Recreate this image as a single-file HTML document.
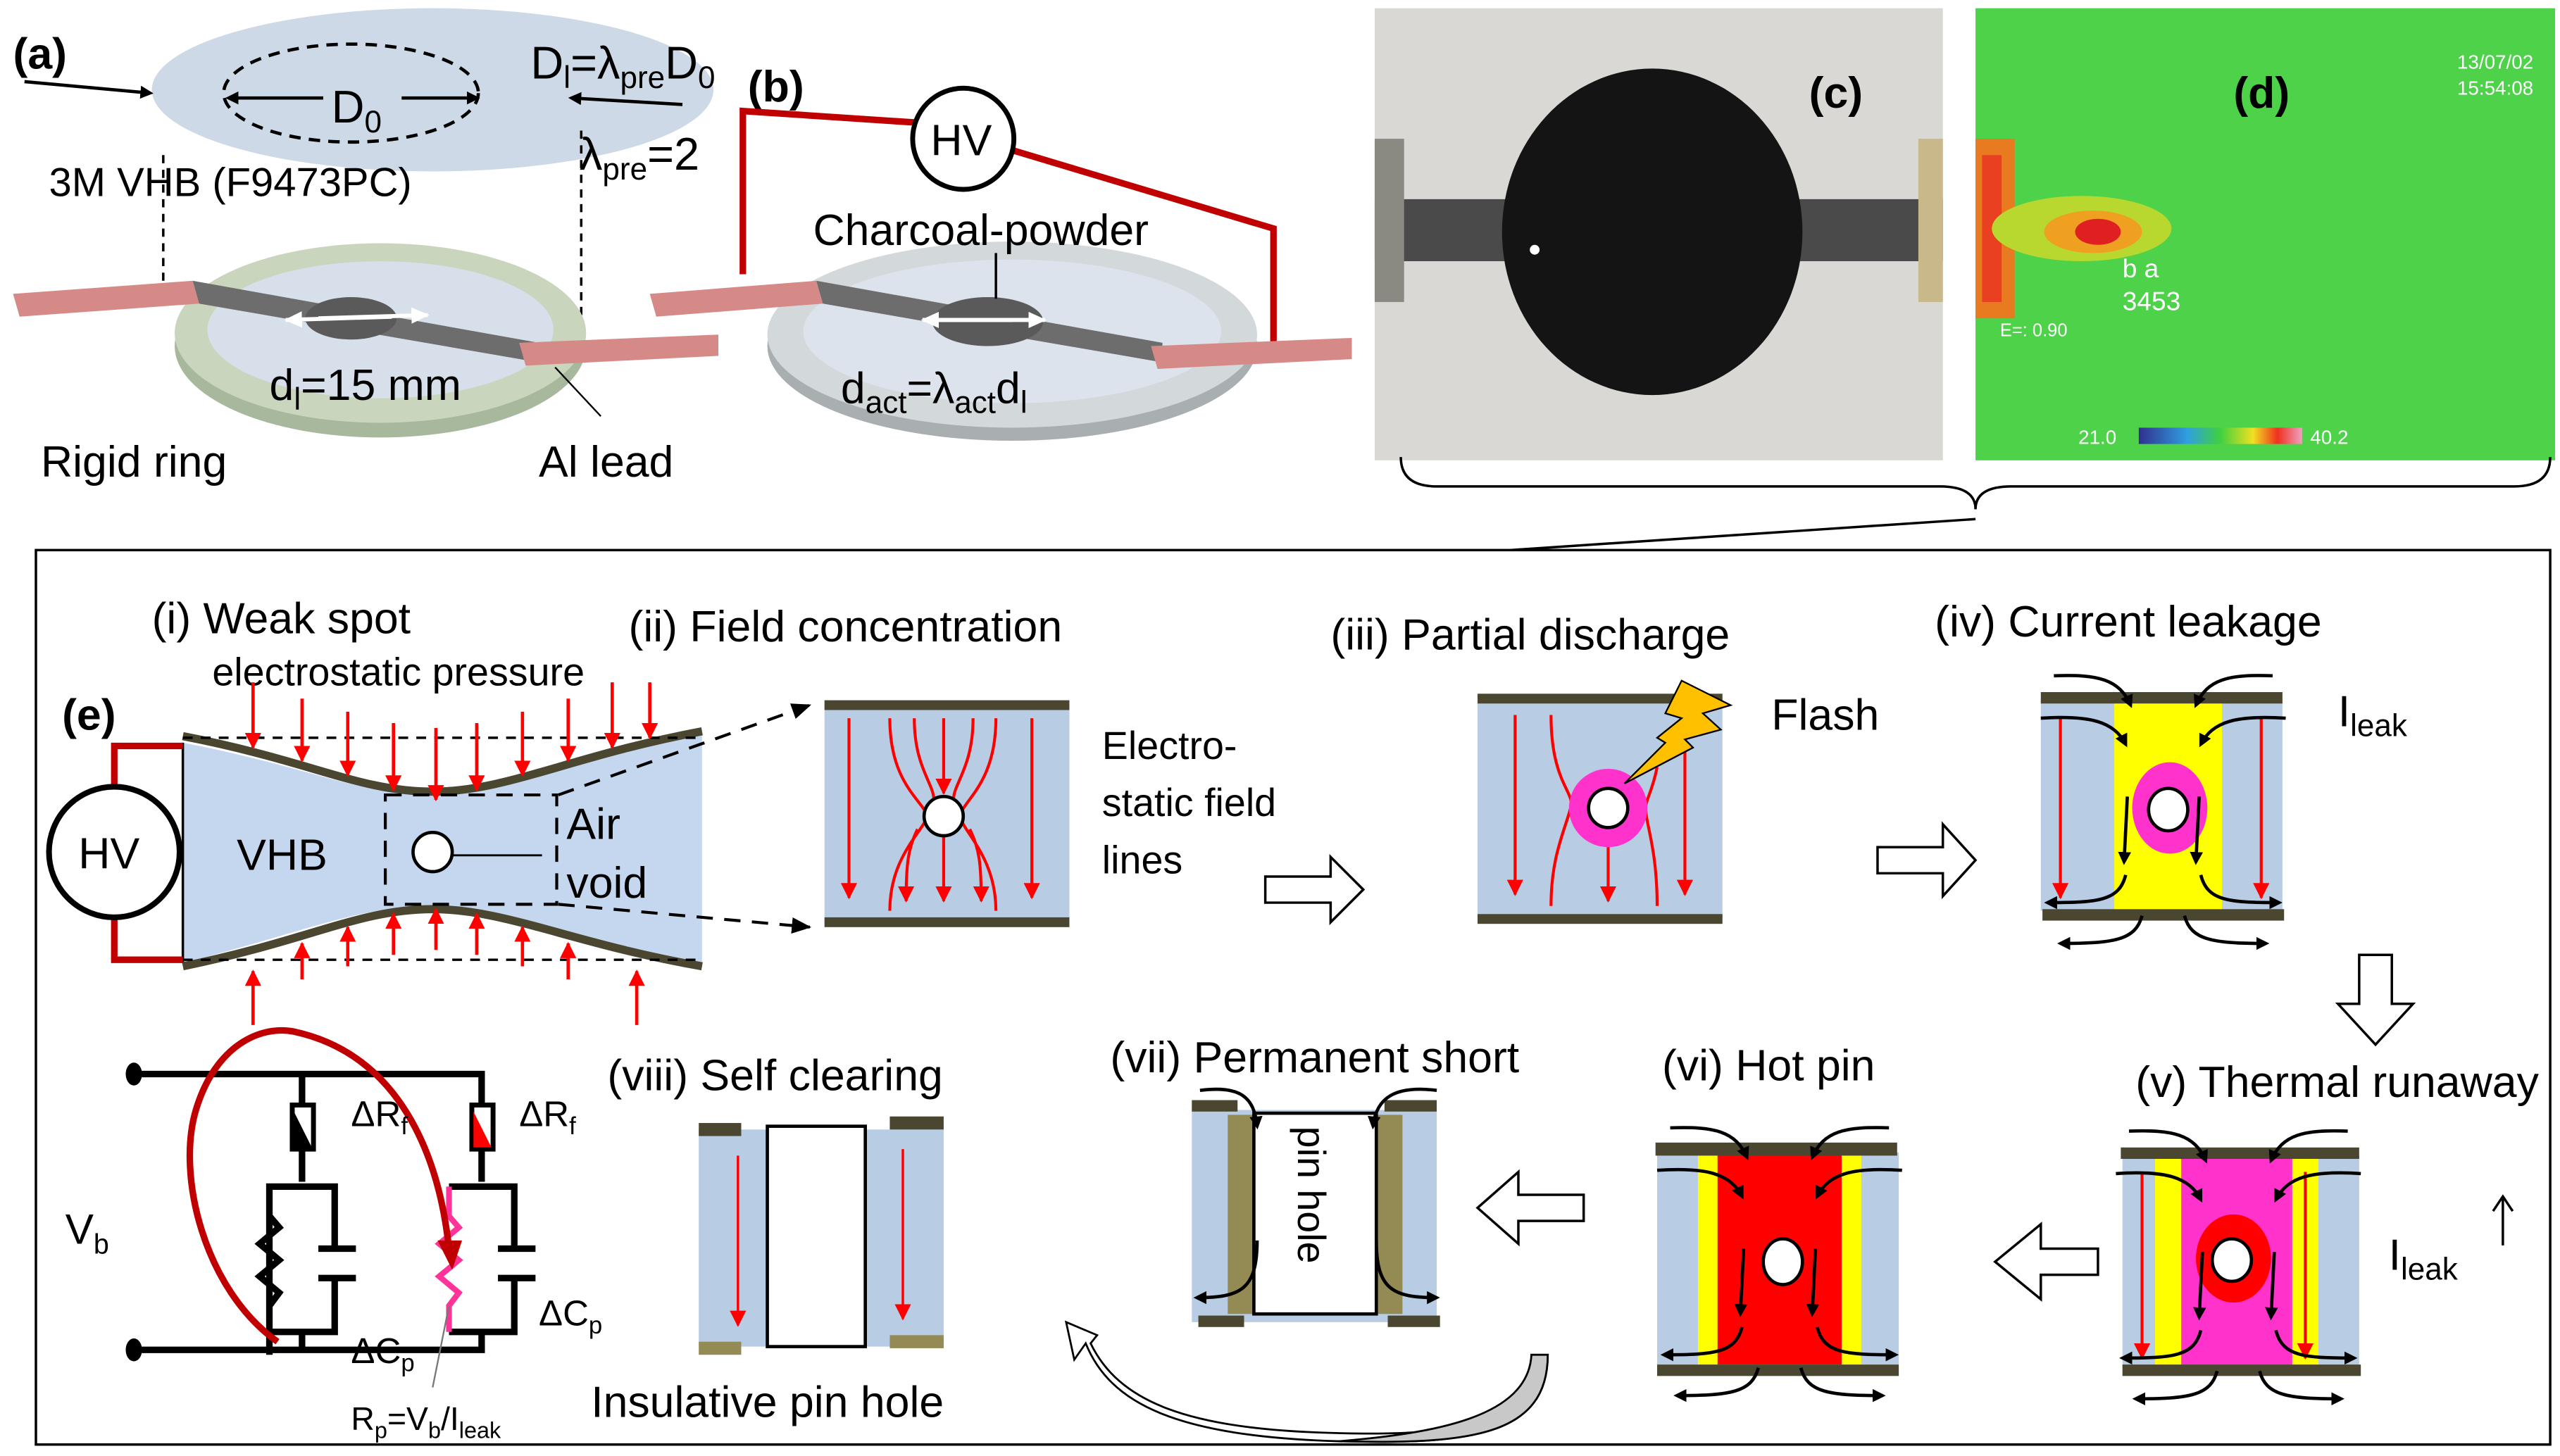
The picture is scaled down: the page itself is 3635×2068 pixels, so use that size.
<!DOCTYPE html>
<html><head><meta charset="utf-8"><style>
html,body{margin:0;padding:0;background:#fff}
svg{display:block}
text{font-family:"Liberation Sans","DejaVu Sans",sans-serif;fill:#000}
</style></head><body>
<svg width="3635" height="2068" viewBox="0 0 1568 892" xmlns="http://www.w3.org/2000/svg">
<defs>
<marker id="ab" markerWidth="8" markerHeight="8" refX="6" refY="4" orient="auto" markerUnits="userSpaceOnUse"><path d="M0,0 L8,4 L0,8 z" fill="#000"/></marker>
<marker id="ar" markerWidth="10" markerHeight="14" refX="9" refY="5" orient="auto" markerUnits="userSpaceOnUse"><path d="M0,0 L10,5 L0,10 z" fill="#f00"/></marker>
<marker id="aw" markerWidth="12" markerHeight="12" refX="10" refY="6" orient="auto" markerUnits="userSpaceOnUse"><path d="M0,1 L11,6 L0,11 z" fill="#fff"/></marker>
<marker id="ad" markerWidth="12" markerHeight="10" refX="11" refY="5" orient="auto" markerUnits="userSpaceOnUse"><path d="M0,0 L12,5 L0,10 z" fill="#000"/></marker>
<symbol id="leak" overflow="visible">
<g fill="none" stroke="#000" stroke-width="2" marker-end="url(#ab)">
<path d="M8,-14 C35,-15 48,-12 55,4"/>
<path d="M142,-14 C115,-15 102,-12 95,4"/>
<path d="M0,12 C30,10 45,14 52,28"/>
<path d="M150,12 C120,10 105,14 98,28"/>
<path d="M53,60 L51,100"/>
<path d="M97,60 L95,100"/>
<path d="M52,108 C48,124 35,125 4,125"/>
<path d="M98,108 C102,124 115,125 146,125"/>
<path d="M62,133 C58,148 45,150 12,150"/>
<path d="M88,133 C92,148 105,150 138,150"/>
</g>
</symbol>
</defs>

<!-- ===== (a) ===== -->
<ellipse cx="265" cy="55" rx="172" ry="50" fill="#cdd9e6"/>
<text x="8" y="42" font-size="27" font-weight="bold">(a)</text>
<ellipse cx="215" cy="57" rx="78" ry="30" fill="none" stroke="#000" stroke-width="2" stroke-dasharray="7,5"/>
<line x1="198" y1="60" x2="140" y2="60" stroke="#000" stroke-width="2" marker-end="url(#ab)"/>
<line x1="246" y1="60" x2="292" y2="60" stroke="#000" stroke-width="2" marker-end="url(#ab)"/>
<text x="203" y="75" font-size="28">D<tspan font-size="19" dy="6">0</tspan></text>
<text x="325" y="48" font-size="28">D<tspan font-size="19" dy="6">l</tspan><tspan dy="-6">=λ</tspan><tspan font-size="19" dy="6">pre</tspan><tspan dy="-6">D</tspan><tspan font-size="19" dy="6">0</tspan></text>
<line x1="15" y1="50" x2="92" y2="57" stroke="#000" stroke-width="2" marker-end="url(#ab)"/>
<line x1="418" y1="64" x2="350" y2="60" stroke="#000" stroke-width="2" marker-end="url(#ab)"/>
<text x="30" y="120" font-size="25">3M VHB  (F9473PC)</text>
<text x="355" y="104" font-size="28">λ<tspan font-size="19" dy="6">pre</tspan><tspan dy="-6">=2</tspan></text>
<line x1="100" y1="95" x2="100" y2="180" stroke="#000" stroke-width="1.5" stroke-dasharray="5,4"/>
<line x1="356" y1="80" x2="356" y2="195" stroke="#000" stroke-width="1.5" stroke-dasharray="5,4"/>
<ellipse cx="233" cy="212" rx="126" ry="56" fill="#a8b89c"/>
<ellipse cx="233" cy="204" rx="126" ry="55" fill="#c9d5bd"/>
<ellipse cx="233" cy="202" rx="106" ry="42" fill="#d6dfea"/>
<polygon points="8,180 118,172 122,186 12,194" fill="#d68a88"/>
<polygon points="118,172 330,210 330,222 122,186" fill="#6d6d6d"/>
<polygon points="318,210 440,205 440,218 322,224" fill="#d68a88"/>
<ellipse cx="215" cy="195" rx="28" ry="13" fill="#5a5a5a"/>
<line x1="195" y1="195" x2="262" y2="193" stroke="#fff" stroke-width="2.5" marker-end="url(#aw)"/>
<line x1="240" y1="194" x2="175" y2="196" stroke="#fff" stroke-width="2.5" marker-end="url(#aw)"/>
<text x="165" y="245" font-size="27">d<tspan font-size="19" dy="6">l</tspan><tspan dy="-6">=15 mm</tspan></text>
<line x1="340" y1="225" x2="368" y2="255" stroke="#000" stroke-width="1"/>
<text x="25" y="292" font-size="27">Rigid  ring</text>
<text x="330" y="292" font-size="27">Al lead</text>

<!-- ===== (b) ===== -->
<text x="458" y="62" font-size="27" font-weight="bold">(b)</text>
<polyline points="455,168 455,68 560,75" fill="none" stroke="#c00000" stroke-width="4"/>
<polyline points="620,92 780,140 780,222" fill="none" stroke="#c00000" stroke-width="4"/>
<circle cx="590" cy="85" r="31" fill="#fff" stroke="#000" stroke-width="3"/>
<text x="570" y="95" font-size="27">HV</text>
<ellipse cx="620" cy="212" rx="150" ry="58" fill="#a9aeb0"/>
<ellipse cx="620" cy="205" rx="150" ry="57" fill="#d3d8db"/>
<ellipse cx="620" cy="203" rx="128" ry="44" fill="#dde3ec"/>
<polygon points="398,180 500,172 504,186 402,194" fill="#d68a88"/>
<polygon points="500,172 712,210 712,222 504,186" fill="#6d6d6d"/>
<polygon points="705,212 828,207 828,220 709,226" fill="#d68a88"/>
<ellipse cx="605" cy="197" rx="34" ry="15" fill="#5a5a5a"/>
<line x1="575" y1="196" x2="640" y2="196" stroke="#fff" stroke-width="2.5" marker-end="url(#aw)"/>
<line x1="620" y1="196" x2="565" y2="196" stroke="#fff" stroke-width="2.5" marker-end="url(#aw)"/>
<line x1="610" y1="155" x2="610" y2="183" stroke="#000" stroke-width="1.5"/>
<text x="498" y="150" font-size="27">Charcoal-powder</text>
<text x="515" y="247" font-size="27">d<tspan font-size="19" dy="6">act</tspan><tspan dy="-6">=λ</tspan><tspan font-size="19" dy="6">act</tspan><tspan dy="-6">d</tspan><tspan font-size="19" dy="6">l</tspan></text>

<!-- ===== (c) ===== -->
<rect x="842" y="5" width="348" height="277" fill="#d9d8d4"/>
<rect x="842" y="122" width="348" height="38" fill="#4a4a4a"/>
<rect x="842" y="85" width="18" height="100" fill="#8a8a82"/>
<rect x="1175" y="85" width="15" height="100" fill="#c9b98a"/>
<ellipse cx="1012" cy="142" rx="92" ry="100" fill="#141414"/>
<circle cx="940" cy="153" r="3" fill="#fff"/>
<text x="1108" y="66" font-size="27" font-weight="bold">(c)</text>

<!-- ===== (d) ===== -->
<rect x="1210" y="5" width="355" height="277" fill="#4ed24a"/>
<rect x="1210" y="85" width="24" height="110" fill="#e87a20"/>
<rect x="1214" y="95" width="12" height="90" fill="#e84020"/>
<ellipse cx="1275" cy="140" rx="55" ry="20" fill="#b8d830"/>
<ellipse cx="1282" cy="142" rx="30" ry="13" fill="#f0a020"/>
<ellipse cx="1285" cy="142" rx="14" ry="8" fill="#e02020"/>
<text x="1368" y="66" font-size="27" font-weight="bold">(d)</text>
<text x="1505" y="42" font-size="12" style="fill:#fff">13/07/02</text>
<text x="1505" y="58" font-size="12" style="fill:#fff">15:54:08</text>
<text x="1225" y="206" font-size="11" style="fill:#fff">E=: 0.90</text>
<text x="1300" y="170" font-size="16" style="fill:#fff">b a</text>
<text x="1300" y="190" font-size="16" style="fill:#fff">3453</text>
<text x="1273" y="272" font-size="12" style="fill:#fff">21.0</text>
<defs><linearGradient id="cb"><stop offset="0" stop-color="#303090"/><stop offset="0.3" stop-color="#30a0e0"/><stop offset="0.5" stop-color="#40d040"/><stop offset="0.7" stop-color="#f0e020"/><stop offset="0.85" stop-color="#f03020"/><stop offset="1" stop-color="#f0a0c0"/></linearGradient></defs>
<rect x="1310" y="262" width="100" height="10" fill="url(#cb)"/>
<text x="1415" y="272" font-size="12" style="fill:#fff">40.2</text>

<!-- brace -->
<path d="M858,280 Q858,298 880,298 L1188,298 Q1210,298 1210,312 Q1210,298 1232,298 L1540,298 Q1562,298 1562,280" fill="none" stroke="#000" stroke-width="1.5"/>
<line x1="1210" y1="318" x2="925" y2="337" stroke="#000" stroke-width="1.5"/>

<!-- ===== (e) box ===== -->
<rect x="22" y="337" width="1540" height="548" fill="none" stroke="#000" stroke-width="1.5"/>
<text x="38" y="447" font-size="27" font-weight="bold">(e)</text>
<text x="93" y="388" font-size="27">(i) Weak spot</text>
<text x="130" y="420" font-size="24">electrostatic pressure</text>

<path d="M112,455 C190,470 220,487 265,487 C310,487 350,465 430,450 L430,590 C350,575 310,555 265,555 C220,555 190,570 112,590 Z" fill="#c5d7ef"/>
<line x1="112" y1="455" x2="112" y2="590" stroke="#000" stroke-width="1.5"/>
<path d="M112,451 C190,466 220,485 265,485 C310,485 350,463 430,448" fill="none" stroke="#4a4630" stroke-width="5"/>
<path d="M112,592 C190,576 220,557 265,557 C310,557 350,578 430,592" fill="none" stroke="#4a4630" stroke-width="5"/>
<line x1="112" y1="452" x2="430" y2="452" stroke="#000" stroke-width="1.5" stroke-dasharray="6,5"/>
<line x1="112" y1="588" x2="430" y2="588" stroke="#000" stroke-width="1.5" stroke-dasharray="6,5"/>
<rect x="236" y="487" width="105" height="67" fill="none" stroke="#000" stroke-width="1.8" stroke-dasharray="10,7"/>
<polyline points="70,482 70,457 112,457" fill="none" stroke="#c00000" stroke-width="4"/>
<polyline points="70,562 70,588 112,588" fill="none" stroke="#c00000" stroke-width="4"/>
<circle cx="70" cy="522" r="40" fill="#fff" stroke="#000" stroke-width="3.5"/>
<text x="48" y="532" font-size="27">HV</text>
<text x="145" y="533" font-size="27">VHB</text>
<circle cx="265" cy="522" r="12" fill="#fff" stroke="#000" stroke-width="2"/>
<line x1="277" y1="524" x2="332" y2="524" stroke="#000" stroke-width="1.2"/>
<text x="347" y="514" font-size="27">Air</text>
<text x="347" y="550" font-size="27">void</text>
<g stroke="#f00" stroke-width="2" marker-end="url(#ar)">
<line x1="155" y1="418" x2="155" y2="458"/><line x1="185" y1="428" x2="185" y2="466"/>
<line x1="213" y1="436" x2="213" y2="475"/><line x1="241" y1="443" x2="241" y2="484"/>
<line x1="267" y1="446" x2="267" y2="490"/><line x1="292" y1="443" x2="292" y2="484"/>
<line x1="320" y1="436" x2="320" y2="475"/><line x1="348" y1="428" x2="348" y2="466"/>
<line x1="375" y1="418" x2="375" y2="458"/><line x1="398" y1="418" x2="398" y2="452"/>
<line x1="155" y1="628" x2="155" y2="595"/><line x1="185" y1="600" x2="185" y2="578"/>
<line x1="213" y1="592" x2="213" y2="568"/><line x1="241" y1="585" x2="241" y2="560"/>
<line x1="267" y1="582" x2="267" y2="557"/><line x1="292" y1="585" x2="292" y2="560"/>
<line x1="320" y1="592" x2="320" y2="568"/><line x1="348" y1="600" x2="348" y2="578"/>
<line x1="390" y1="628" x2="390" y2="595"/>
</g>
<line x1="342" y1="487" x2="496" y2="432" stroke="#000" stroke-width="1.8" stroke-dasharray="10,7" marker-end="url(#ad)"/>
<line x1="342" y1="554" x2="496" y2="568" stroke="#000" stroke-width="1.8" stroke-dasharray="10,7" marker-end="url(#ad)"/>

<!-- (ii) -->
<text x="385" y="393" font-size="27">(ii) Field concentration</text>
<rect x="505" y="432" width="150" height="134" fill="#b8cce4"/>
<rect x="505" y="429" width="150" height="6" fill="#4a4630"/>
<rect x="505" y="562" width="150" height="6" fill="#4a4630"/>
<g fill="none" stroke="#f00" stroke-width="1.8">
<line x1="520" y1="440" x2="520" y2="550" marker-end="url(#ar)"/>
<line x1="632" y1="440" x2="632" y2="550" marker-end="url(#ar)"/>
<path d="M545,440 C545,480 565,490 568,500 C565,510 545,525 545,558"/>
<path d="M610,440 C610,480 590,490 588,500 C590,510 610,525 610,558"/>
<path d="M560,440 C560,470 572,480 572,490"/>
<path d="M596,440 C596,470 584,480 584,490"/>
<line x1="578" y1="440" x2="578" y2="486" marker-end="url(#ar)"/>
<path d="M562,508 C556,520 555,530 555,552" marker-end="url(#ar)"/>
<path d="M594,508 C600,520 601,530 601,552" marker-end="url(#ar)"/>
<line x1="578" y1="512" x2="578" y2="552" marker-end="url(#ar)"/>
</g>
<circle cx="578" cy="500" r="12" fill="#fff" stroke="#000" stroke-width="2"/>
<text x="675" y="465" font-size="24">Electro-</text>
<text x="675" y="500" font-size="24">static field</text>
<text x="675" y="535" font-size="24">lines</text>
<polygon points="775,537 815,537 815,525 835,545 815,565 815,553 775,553" fill="#fff" stroke="#000" stroke-width="1.5"/>

<!-- (iii) -->
<text x="815" y="398" font-size="27">(iii) Partial discharge</text>
<rect x="905" y="430" width="150" height="132" fill="#b8cce4"/>
<rect x="905" y="425" width="150" height="6" fill="#4a4630"/>
<rect x="905" y="560" width="150" height="6" fill="#4a4630"/>
<g fill="none" stroke="#f00" stroke-width="1.8">
<line x1="928" y1="438" x2="928" y2="548" marker-end="url(#ar)"/>
<line x1="1032" y1="438" x2="1032" y2="548" marker-end="url(#ar)"/>
<path d="M950,438 C950,480 965,485 962,495 C958,510 950,525 950,555"/>
<path d="M1015,470 C1012,485 1008,490 1008,495 C1008,505 1015,520 1015,555"/>
<line x1="985" y1="512" x2="985" y2="552" marker-end="url(#ar)"/>
</g>
<circle cx="985" cy="495" r="24" fill="#ff33cc"/>
<circle cx="985" cy="495" r="12" fill="#fff" stroke="#000" stroke-width="2"/>
<polygon points="1030,417 1060,432 1043,437 1054,447 1032,453 1037,458 995,480 1020,455 1015,452 1030,440 1020,437" fill="#ffc000" stroke="#000" stroke-width="1"/>
<text x="1085" y="447" font-size="27">Flash</text>
<polygon points="1150,519 1190,519 1190,505 1210,527 1190,549 1190,535 1150,535" fill="#fff" stroke="#000" stroke-width="1.5"/>

<!-- (iv) -->
<text x="1185" y="390" font-size="27">(iv) Current leakage</text>
<rect x="1250" y="428" width="148" height="130" fill="#b8cce4"/>
<rect x="1295" y="428" width="66" height="130" fill="#ffff00"/>
<rect x="1250" y="424" width="148" height="7" fill="#4a4630"/>
<rect x="1251" y="557" width="148" height="7" fill="#4a4630"/>
<line x1="1262" y1="440" x2="1262" y2="550" stroke="#f00" stroke-width="1.8" marker-end="url(#ar)"/>
<line x1="1385" y1="440" x2="1385" y2="550" stroke="#f00" stroke-width="1.8" marker-end="url(#ar)"/>
<ellipse cx="1329" cy="495" rx="23" ry="28" fill="#ff33cc"/>
<ellipse cx="1328" cy="496" rx="12" ry="13" fill="#fff" stroke="#000" stroke-width="2"/>
<use href="#leak" x="1250" y="428"/>
<text x="1432" y="445" font-size="27">I<tspan font-size="19" dy="6">leak</tspan></text>
<polygon points="1445,585 1465,585 1465,615 1478,615 1455,640 1432,615 1445,615" fill="#fff" stroke="#000" stroke-width="1.5"/>

<!-- (v) -->
<text x="1308" y="672" font-size="27">(v) Thermal runaway</text>
<rect x="1300" y="708" width="145" height="130" fill="#b8cce4"/>
<rect x="1320" y="708" width="100" height="130" fill="#ffff00"/>
<rect x="1336" y="708" width="68" height="130" fill="#ff33cc"/>
<rect x="1299" y="703" width="146" height="7" fill="#4a4630"/>
<rect x="1300" y="836" width="146" height="7" fill="#4a4630"/>
<line x1="1312" y1="718" x2="1312" y2="832" stroke="#f00" stroke-width="1.8" marker-end="url(#ar)"/>
<line x1="1412" y1="718" x2="1412" y2="832" stroke="#f00" stroke-width="1.8" marker-end="url(#ar)"/>
<ellipse cx="1368" cy="771" rx="23" ry="27" fill="#ff0000"/>
<ellipse cx="1367" cy="772" rx="12" ry="13" fill="#fff" stroke="#000" stroke-width="2"/>
<use href="#leak" x="1296" y="707"/>
<text x="1463" y="778" font-size="27">I<tspan font-size="19" dy="6">leak</tspan></text>
<line x1="1533" y1="763" x2="1533" y2="733" stroke="#000" stroke-width="1.5"/>
<path d="M1527,742 L1533,733 L1539,742" fill="none" stroke="#000" stroke-width="1.5"/>
<polygon points="1285,765 1250,765 1250,750 1222,773 1250,796 1250,781 1285,781" fill="#fff" stroke="#000" stroke-width="1.5"/>

<!-- (vi) -->
<text x="1018" y="662" font-size="27">(vi) Hot pin</text>
<rect x="1015" y="706" width="148" height="130" fill="#b8cce4"/>
<rect x="1040" y="706" width="100" height="130" fill="#ffff00"/>
<rect x="1052" y="706" width="76" height="130" fill="#ff0000"/>
<rect x="1014" y="700" width="148" height="8" fill="#4a4630"/>
<rect x="1015" y="836" width="148" height="7" fill="#4a4630"/>
<ellipse cx="1092" cy="773" rx="12" ry="14" fill="#fff" stroke="#000" stroke-width="2"/>
<use href="#leak" x="1015" y="705"/>
<polygon points="970,732 930,732 930,718 905,740 930,762 930,748 970,748" fill="#fff" stroke="#000" stroke-width="1.5"/>

<!-- (vii) -->
<text x="680" y="657" font-size="27">(vii) Permanent short</text>
<rect x="730" y="680" width="150" height="130" fill="#b8cce4"/>
<rect x="752" y="683" width="16" height="122" fill="#948a54"/>
<rect x="843" y="683" width="16" height="122" fill="#948a54"/>
<rect x="768" y="682" width="75" height="123" fill="#fff" stroke="#000" stroke-width="2"/>
<rect x="730" y="674" width="28" height="7" fill="#4a4630"/>
<rect x="848" y="674" width="32" height="7" fill="#4a4630"/>
<rect x="734" y="806" width="28" height="7" fill="#4a4630"/>
<rect x="850" y="806" width="32" height="7" fill="#4a4630"/>
<text transform="translate(795,690) rotate(90)" font-size="24">pin hole</text>
<g fill="none" stroke="#000" stroke-width="2" marker-end="url(#ab)">
<path d="M735,668 C760,665 768,672 770,690"/>
<path d="M880,668 C855,665 843,672 841,690"/>
<path d="M770,760 C770,790 760,795 733,795"/>
<path d="M843,760 C843,790 853,795 880,795"/>
</g>
<path d="M948,830 C948,880 900,885 820,883 C720,880 680,860 665,823 L658,833 L653,810 L672,818 L668,823 C685,858 725,876 820,878 C895,880 938,872 938,830 Z" fill="#fff" stroke="#000" stroke-width="1.2"/>
<path d="M948,830 C948,880 900,885 820,883 C880,878 936,868 938,830 Z" fill="#c8c8c8" stroke="#000" stroke-width="1.2"/>

<!-- (viii) -->
<text x="372" y="668" font-size="27">(viii) Self clearing</text>
<rect x="428" y="692" width="150" height="133" fill="#b8cce4"/>
<rect x="470" y="690" width="60" height="135" fill="#fff" stroke="#000" stroke-width="2"/>
<rect x="428" y="688" width="26" height="8" fill="#4a4630"/>
<rect x="545" y="684" width="33" height="8" fill="#4a4630"/>
<rect x="428" y="822" width="26" height="8" fill="#948a54"/>
<rect x="545" y="818" width="33" height="8" fill="#948a54"/>
<line x1="452" y1="708" x2="452" y2="812" stroke="#f00" stroke-width="1.5" marker-end="url(#ar)"/>
<line x1="553" y1="704" x2="553" y2="808" stroke="#f00" stroke-width="1.5" marker-end="url(#ar)"/>
<text x="362" y="868" font-size="27">Insulative pin hole</text>

<!-- circuit -->
<g stroke="#000" stroke-width="4" fill="none">
<line x1="85" y1="658" x2="297" y2="658"/>
<line x1="85" y1="827" x2="297" y2="827"/>
<line x1="185" y1="658" x2="185" y2="724"/>
<line x1="295" y1="658" x2="295" y2="724"/>
<polyline points="165,830 165,727 205,727 205,765"/>
<polyline points="205,783 205,816 165,816"/>
<polyline points="275,727 315,727 315,765"/>
<polyline points="315,783 315,816 275,816"/>
<line x1="185" y1="816" x2="185" y2="827"/>
<line x1="295" y1="816" x2="295" y2="827"/>
<polyline points="165,745 171,752 159,762 171,772 159,782 171,792 165,800"/>
<line x1="195" y1="765" x2="218" y2="765"/>
<line x1="195" y1="783" x2="218" y2="783"/>
<line x1="305" y1="765" x2="328" y2="765"/>
<line x1="305" y1="783" x2="328" y2="783"/>
</g>
<ellipse cx="82" cy="658" rx="5" ry="7" fill="#000"/>
<ellipse cx="82" cy="827" rx="5" ry="7" fill="#000"/>
<polyline points="275,727 275,745 281,752 269,762 281,772 269,782 281,792 275,800 275,816" fill="none" stroke="#ff3399" stroke-width="3.5"/>
<rect x="179" y="677" width="13" height="27" fill="#fff" stroke="#000" stroke-width="3"/>
<polygon points="180,681 191,703 180,703" fill="#000"/>
<rect x="289" y="677" width="13" height="27" fill="#fff" stroke="#000" stroke-width="3"/>
<polygon points="290,681 301,703 290,703" fill="#f00"/>
<path d="M170,822 C125,790 108,720 120,680 C132,640 160,628 180,632 C240,645 268,700 275,765" fill="none" stroke="#c00000" stroke-width="4"/>
<polygon points="268,760 283,760 277,778" fill="#c00000"/>
<line x1="275" y1="800" x2="265" y2="850" stroke="#777" stroke-width="1"/>
<text x="215" y="690" font-size="22">ΔR<tspan font-size="15" dy="5">f</tspan></text>
<text x="318" y="690" font-size="22">ΔR<tspan font-size="15" dy="5">f</tspan></text>
<text x="215" y="835" font-size="22">ΔC<tspan font-size="15" dy="5">p</tspan></text>
<text x="330" y="812" font-size="22">ΔC<tspan font-size="15" dy="5">p</tspan></text>
<text x="40" y="762" font-size="26">V<tspan font-size="17" dy="6">b</tspan></text>
<text x="215" y="876" font-size="20">R<tspan font-size="14" dy="5">p</tspan><tspan dy="-5">=V</tspan><tspan font-size="14" dy="5">b</tspan><tspan dy="-5">/I</tspan><tspan font-size="14" dy="5">leak</tspan></text>
</svg>
</body></html>
